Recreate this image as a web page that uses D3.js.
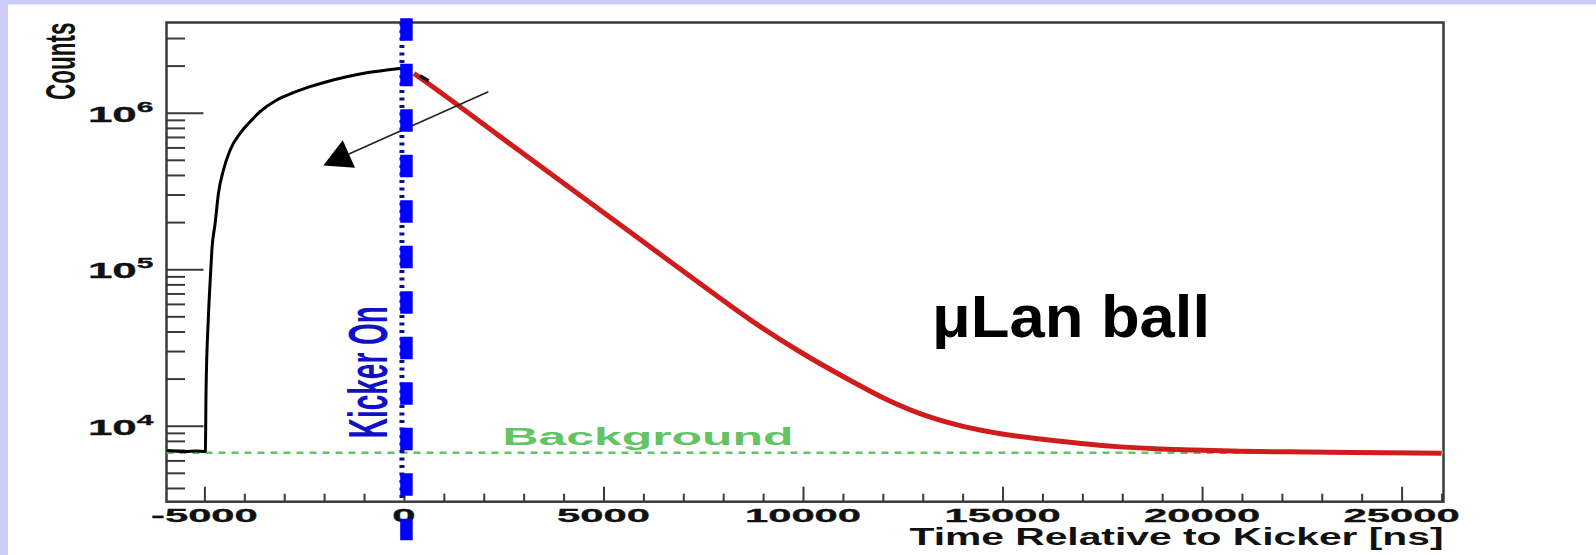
<!DOCTYPE html>
<html lang="en">
<head>
<meta charset="UTF-8">
<title>μLan ball – Counts vs Time Relative to Kicker</title>
<script src="https://d3js.org/d3.v7.min.js"></script>
<style>
  body { margin: 0; background: #ccccfa; overflow: hidden; }
  svg { display: block; }
  text { font-family: "Liberation Sans", Arial, sans-serif; font-weight: bold; }
</style>
</head>
<body>
<svg id="chart" width="1596" height="555"></svg>
<script>
  // ——— data read off the picture ———
  // histogram before the kicker (black)
  const histTime   = [-5950, -5500, -5200, -4990, -4975, -4960, -4900, -4850, -4813, -4731, -4648, -4523,
                      -4355, -4105, -3855, -3605, -3187, -2771, -2353, -1935, -1434, -934, -433, -60];
  const histCounts = [6950, 6850, 6900, 6850, 6900, 16200, 49700, 89500, 132700, 196500, 305500, 430400,
                      577700, 738500, 876000, 1015000, 1205000, 1342000, 1466000, 1578000, 1698000, 1801000, 1874000, 1922000];
  // the bit of histogram visible just after the kicker
  const histAfterTime   = [400, 620];
  const histAfterCounts = [1720000, 1600000];
  // fit (red)
  const fitTime   = [250, 483, 2403, 4906, 7409, 8661, 9912, 11164, 12122, 13079, 14037, 14994,
                     15952, 16911, 17870, 18824, 19785, 20743, 22653, 24576, 26000];
  const fitCounts = [1780000, 1618000, 706000, 240000, 81300, 47800, 29800, 19600, 14600, 11580, 9860, 8850,
                     8220, 7720, 7350, 7130, 7000, 6890, 6790, 6720, 6660];
  const backgroundLevel = 6720;
  const kickerTime = 0;
  const xMajorTicks = [-5000, 0, 5000, 10000, 15000, 20000, 25000];
  const xMinorStep = 1000;
  const yDecades = [4, 5, 6];
  const arrowFrom = [2115, 1362000];
  const arrowTo   = [-2020, 460000];

  // ——— setup ———
  const svg = d3.select("#chart"),
        W = +svg.attr("width"), H = +svg.attr("height");
  const margin = { top: 22.5, right: 152.5, bottom: 53.3, left: 166.5 },
        width  = W - margin.left - margin.right,
        height = H - margin.top - margin.bottom;

  const x = d3.scaleLinear().domain([-5950, 26050]).range([0, width]);
  const y = d3.scaleLog().domain([3269, 3.77e6]).range([height, 0]);

  const RED = "#d01c1c", GREEN = "#62c462", BLUE = "#0000ff", NAVY = "#10108a", AXIS = "#3a3a3a";

  // slide background + white picture area
  svg.append("rect").attr("width", W).attr("height", H).attr("fill", "#ccccfa");
  svg.append("rect").attr("x", 8).attr("y", 4.5).attr("width", W - 8).attr("height", H - 4.5).attr("fill", "#fff");

  const g = svg.append("g").attr("transform", `translate(${margin.left},${margin.top})`);

  g.append("clipPath").attr("id", "frame")
    .append("rect").attr("width", width).attr("height", height);

  // ——— ticks ———
  const xMinor = d3.range(-5000, 26001, xMinorStep).filter(v => !xMajorTicks.includes(v));
  g.append("g").attr("transform", `translate(0,${height})`)
    .call(d3.axisBottom(x).tickValues(xMinor).tickSize(-8).tickSizeOuter(0).tickFormat(""));
  g.append("g").attr("transform", `translate(0,${height})`)
    .call(d3.axisBottom(x).tickValues(xMajorTicks).tickSize(-15).tickSizeOuter(0).tickFormat(""));

  const yMajor = yDecades.map(d => Math.pow(10, d));
  const yMinor = [];
  [3, 4, 5, 6].forEach(d => { for (let k = 2; k <= 9; k++) yMinor.push(k * Math.pow(10, d)); });
  const yMinorIn = yMinor.filter(v => v >= y.domain()[0] && v <= y.domain()[1]);
  g.append("g")
    .call(d3.axisLeft(y).tickValues(yMinorIn).tickSize(-18.5).tickSizeOuter(0).tickFormat(""));
  g.append("g")
    .call(d3.axisLeft(y).tickValues(yMajor).tickSize(-37).tickSizeOuter(0).tickFormat(""));

  g.selectAll(".tick line").attr("stroke", AXIS).attr("stroke-width", 2);
  g.selectAll(".domain").remove();

  // frame
  g.append("rect").attr("width", width).attr("height", height)
    .attr("fill", "none").attr("stroke", AXIS).attr("stroke-width", 2.5);

  // ——— tick labels (stretched like the original) ———
  g.selectAll(".xlab").data(xMajorTicks).join("text")
    .attr("class", "xlab")
    .attr("transform", d => `translate(${x(d)},${height + 20}) scale(2.2,1)`)
    .attr("text-anchor", "middle")
    .attr("font-size", 19)
    .attr("fill", "#111")
    .attr("stroke", "#111").attr("stroke-width", 0.3)
    .text(d => d);

  const ylab = g.selectAll(".ylab").data(yDecades).join("text")
    .attr("class", "ylab")
    .attr("transform", d => `translate(${-13},${y(Math.pow(10, d)) + 9}) scale(2.0,1)`)
    .attr("text-anchor", "end")
    .attr("font-size", 22)
    .attr("fill", "#111")
    .attr("stroke", "#111").attr("stroke-width", 0.3);
  ylab.append("tspan").text("10");
  ylab.append("tspan").attr("dy", -10).attr("font-size", 15).text(d => d);

  // axis titles
  g.append("text")
    .attr("transform", `translate(${75 - margin.left},0) scale(1.9,1) rotate(-90)`)
    .attr("text-anchor", "end")
    .attr("font-size", 22.5)
    .attr("fill", "#111")
    .text("Counts");

  g.append("text")
    .attr("x", width).attr("y", height + 43.5)
    .attr("text-anchor", "end")
    .attr("font-size", 24)
    .attr("textLength", 534).attr("lengthAdjust", "spacingAndGlyphs")
    .attr("fill", "#111")
    .text("Time Relative to Kicker [ns]");

  // ——— plot content ———
  const plot = g.append("g").attr("clip-path", "url(#frame)");

  // background level
  plot.append("line")
    .attr("x1", 0).attr("x2", width)
    .attr("y1", y(backgroundLevel)).attr("y2", y(backgroundLevel))
    .attr("stroke", GREEN).attr("stroke-width", 2.5).attr("stroke-dasharray", "7,6");

  const line = d3.line().x(d => x(d[0])).y(d => y(d[1])).curve(d3.curveMonotoneX);

  plot.append("path")
    .datum(d3.zip(histTime, histCounts))
    .attr("fill", "none").attr("stroke", "#000").attr("stroke-width", 3)
    .attr("d", line);

  plot.append("path")
    .datum(d3.zip(fitTime, fitCounts))
    .attr("fill", "none").attr("stroke", RED).attr("stroke-width", 5)
    .attr("stroke-linejoin", "round")
    .attr("d", line);

  plot.append("path")
    .datum(d3.zip(histAfterTime, histAfterCounts))
    .attr("fill", "none").attr("stroke", "#111").attr("stroke-width", 3.5)
    .attr("d", line);

  // "Background" label
  g.append("text")
    .attr("x", x(2470)).attr("y", y(backgroundLevel) - 8)
    .attr("font-size", 23)
    .attr("textLength", 291).attr("lengthAdjust", "spacingAndGlyphs")
    .attr("fill", GREEN)
    .text("Background");

  // arrow
  const ax0 = x(arrowFrom[0]), ay0 = y(arrowFrom[1]),
        ax1 = x(arrowTo[0]),   ay1 = y(arrowTo[1]);
  const ang = Math.atan2(ay1 - ay0, ax1 - ax0), headLen = 28, headW = 15;
  const bx = ax1 - headLen * Math.cos(ang), by = ay1 - headLen * Math.sin(ang);
  g.append("line")
    .attr("x1", ax0).attr("y1", ay0).attr("x2", bx).attr("y2", by)
    .attr("stroke", "#222").attr("stroke-width", 1.6);
  g.append("path")
    .attr("d", `M${ax1},${ay1}L${bx - headW * Math.sin(ang)},${by + headW * Math.cos(ang)}L${bx + headW * Math.sin(ang)},${by - headW * Math.cos(ang)}Z`)
    .attr("fill", "#000");

  // kicker lines
  g.append("line")
    .attr("x1", x(kickerTime) - 2).attr("x2", x(kickerTime) - 2)
    .attr("y1", 0).attr("y2", height)
    .attr("stroke", NAVY).attr("stroke-width", 5).attr("stroke-dasharray", "3,4.5");
  g.append("line")
    .attr("x1", x(kickerTime) + 2.5).attr("x2", x(kickerTime) + 2.5)
    .attr("y1", -4.2).attr("y2", height + 38.5)
    .attr("stroke", BLUE).attr("stroke-width", 12.5).attr("stroke-dasharray", "22.5,23");

  g.append("text")
    .attr("transform", `translate(${x(kickerTime) - 17},${438.3 - margin.top}) scale(1.95,1) rotate(-90)`)
    .attr("font-size", 28)
    .attr("fill", "#1010c8")
    .text("Kicker On");

  // slide label
  svg.append("text")
    .attr("x", 932).attr("y", 336.7)
    .attr("font-size", 60)
    .attr("textLength", 278).attr("lengthAdjust", "spacingAndGlyphs")
    .attr("fill", "#000")
    .text("μLan ball");
</script>
</body>
</html>
